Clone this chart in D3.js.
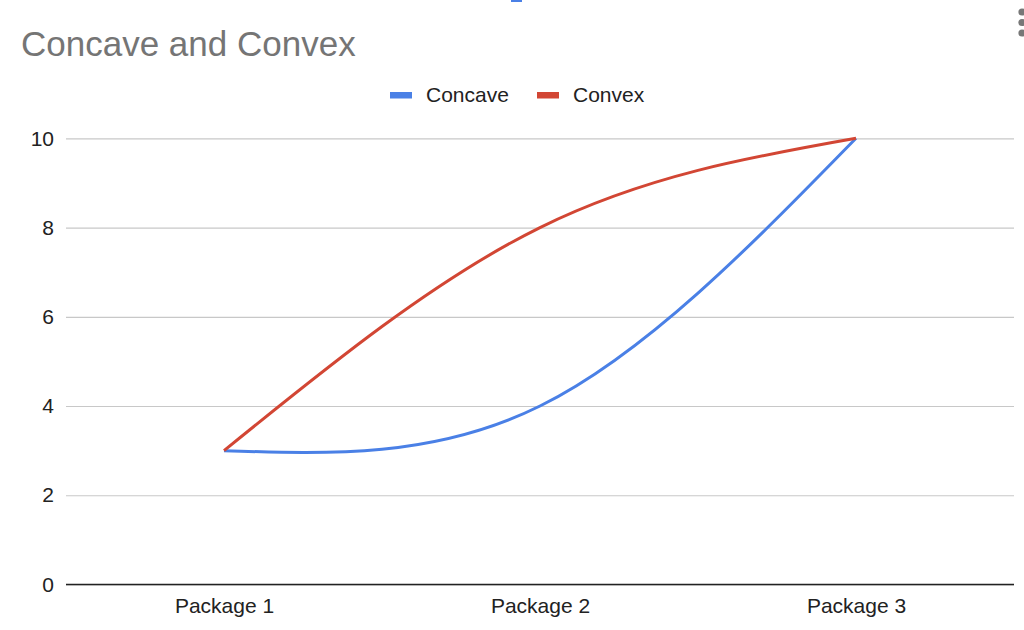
<!DOCTYPE html>
<html>
<head>
<meta charset="utf-8">
<script src="https://cdn.jsdelivr.net/npm/d3@7"></script>
<style>
  html, body { margin: 0; padding: 0; background: #fff; }
  svg { display: block; font-family: "Liberation Sans", Arial, sans-serif; }
</style>
</head>
<body>
<script>
// chart data
const categories = ["Package 1", "Package 2", "Package 3"];
const concave = [3, 4, 10];
const convex = [3, 8, 10];
const yTicks = [0, 2, 4, 6, 8, 10];
const seriesNames = ["Concave", "Convex"];
const seriesColors = ["#4a80e6", "#d24634"];

const W = 1024, H = 630;
const svg = d3.select("body").append("svg")
  .attr("width", W)
  .attr("height", H);

const x = d3.scalePoint()
  .domain(categories)
  .range([66, 1014])
  .padding(0.5);

const y = d3.scaleLinear()
  .domain([0, 10])
  .range([584.5, 138.3]);

// title
svg.append("text")
  .attr("x", 21)
  .attr("y", 56)
  .attr("font-size", "35px")
  .attr("fill", "#757575")
  .text("Concave and Convex");

// bits of the surrounding UI
svg.append("rect")
  .attr("x", 511).attr("y", 0)
  .attr("width", 11).attr("height", 2)
  .attr("fill", "#4a80e6");
[12, 22.5, 33].forEach(cy => {
  svg.append("circle")
    .attr("cx", 1022).attr("cy", cy)
    .attr("r", 3.6)
    .attr("fill", "#777");
});

// legend
const legend = svg.append("g");
const legendX = [390, 537];
seriesNames.forEach((name, i) => {
  legend.append("rect")
    .attr("x", legendX[i]).attr("y", 92)
    .attr("width", 22).attr("height", 6.5)
    .attr("fill", seriesColors[i]);
  legend.append("text")
    .attr("x", legendX[i] + 36)
    .attr("y", 102)
    .attr("font-size", "21px")
    .attr("fill", "#222")
    .text(name);
});

// gridlines + y axis
const yAxis = d3.axisLeft(y)
  .tickValues(yTicks)
  .tickSize(-(1014 - 66))
  .tickPadding(12)
  .tickFormat(d3.format("d"));

const gy = svg.append("g")
  .attr("transform", "translate(66,0)")
  .call(yAxis);
gy.select(".domain").remove();
gy.selectAll(".tick line")
  .attr("stroke", "#c8c8c8")
  .attr("stroke-width", 1.2);
gy.selectAll(".tick text")
  .attr("font-size", "21px")
  .attr("font-family", "Liberation Sans, Arial, sans-serif")
  .attr("fill", "#222");

// x axis
const xAxis = d3.axisBottom(x).tickSize(0).tickPadding(14);
const gx = svg.append("g")
  .attr("transform", `translate(0,${y(0)})`)
  .call(xAxis);
gx.select(".domain")
  .attr("d", `M66,0H1014`)
  .attr("stroke", "#222")
  .attr("stroke-width", 1.6);
gx.selectAll(".tick text")
  .attr("font-size", "21px")
  .attr("font-family", "Liberation Sans, Arial, sans-serif")
  .attr("fill", "#222");

// smooth lines
const line = d3.line()
  .x((d, i) => x(categories[i]))
  .y(d => y(d))
  .curve(d3.curveNatural);

[concave, convex].forEach((vals, i) => {
  svg.append("path")
    .datum(vals)
    .attr("fill", "none")
    .attr("stroke", seriesColors[i])
    .attr("stroke-width", 3)
    .attr("stroke-linejoin", "round")
    .attr("d", line);
});
</script>
</body>
</html>
